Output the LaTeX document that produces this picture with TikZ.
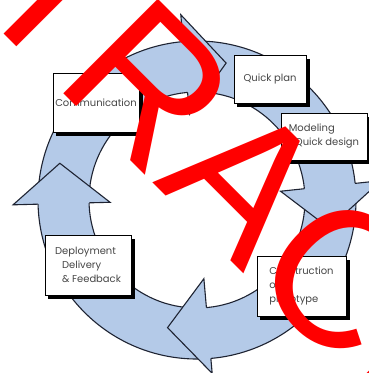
\documentclass[tikz,border=0pt]{standalone}
\usepackage{fontspec}
\setmainfont{Poppins}
\newfontfamily\wmfont{Liberation Sans}
\usetikzlibrary{shadows}
\definecolor{ringblue}{RGB}{180,202,232}
\definecolor{ringline}{RGB}{30,35,50}
\definecolor{txtgray}{RGB}{70,70,70}
\definecolor{wmred}{RGB}{255,0,0}
\begin{document}
\begin{tikzpicture}[x=1bp,y=-1bp,
  box/.style={draw=black, line width=0.9bp, fill=white,
    drop shadow={shadow xshift=3.5bp, shadow yshift=-3.5bp, fill=black, opacity=1},
    inner sep=0pt, font=\fontsize{10}{14}\selectfont, text=txtgray},
  band/.style={fill=ringblue},
  bandline/.style={draw=ringline, line width=1.1bp},
  wm/.style={text=wmred, inner sep=0pt, font=\wmfont\fontsize{195}{195}\selectfont,
    rotate=-45, anchor=base west}]
\useasboundingbox (0,0) rectangle (369,373);
\clip (0,0) rectangle (369,373);
\fill[white] (0,0) rectangle (369,373);
\coordinate (c) at (197,200);
\begin{scope}[shift={(197,200)}]
  \fill[band, even odd rule] (0,0) circle[radius=159bp] (0,0) circle[radius=108bp];
  \draw[bandline] (0,0) circle[radius=159bp];
  \draw[bandline] (0,0) circle[radius=108bp];
  \foreach \ba/\ta/\ri/\ro/\rt in {-95/-78/86/186/140, -6/12/84/185/135, 85/103/79/174/131, 178.5/195/87/184/142} {
    \fill[band] (\ba:\ro) -- (\ta:\rt) -- (\ba:\ri) -- cycle;
    \draw[bandline, line join=miter] (\ba:159) -- (\ba:\ro) -- (\ta:\rt) -- (\ba:\ri) -- (\ba:108);
  }
\end{scope}
\node[box, minimum width=86bp, minimum height=59bp] (comm) at (96,103) {Communication};
\node[box, minimum width=72bp, minimum height=48bp] (qplan) at (270,79) {Quick plan};
\node[box, minimum width=86bp, minimum height=47bp, align=left] (model) at (324,136.5) {Modeling\\\hspace*{6bp}Quick design};
\node[box, minimum width=89bp, minimum height=60bp, align=left] (cons) at (301.5,286) {Construction\\of\\prototype};
\node[box, minimum width=86bp, minimum height=60bp, align=left] (deploy) at (88,265) {Deployment\\\hspace*{7bp}Delivery\\\hspace*{7bp}\& Feedback};
\node[wm] (wmT) at (-32,-2) {T};
\node[wm] (wmR) at (52,82) {R};
\node[wm] (wmA) at (152,182) {A};
\node[wm] (wmC) at (244,274) {C};
\node[wm] (wmE) at (343,374) {E};
\end{tikzpicture}
\end{document}
